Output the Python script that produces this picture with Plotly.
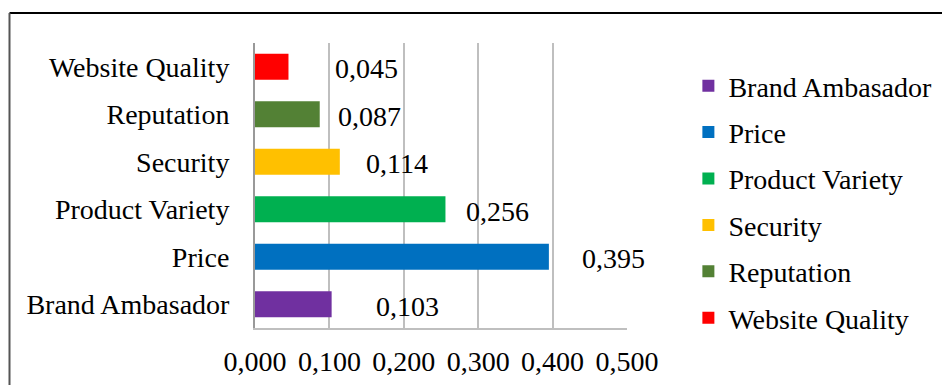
import plotly.graph_objects as go

categories = ["Brand Ambasador", "Price", "Product Variety", "Security", "Reputation", "Website Quality"]
values = [0.103, 0.395, 0.256, 0.114, 0.087, 0.045]
value_labels = ["0,103", "0,395", "0,256", "0,114", "0,087", "0,045"]
colors = ["#7030A0", "#0070C0", "#00B050", "#FFC000", "#538135", "#FF0000"]
tick_vals = [0.0, 0.1, 0.2, 0.3, 0.4, 0.5]
tick_text = ["0,000", "0,100", "0,200", "0,300", "0,400", "0,500"]
label_shift_px = [42, 31, 19, 24, 16, 45]

FONT = "Liberation Serif, Times New Roman, serif"
FS = 28

fig = go.Figure()
for cat, val, col in zip(categories, values, colors):
    fig.add_trace(go.Bar(
        x=[val], y=[cat], orientation="h", name=cat,
        marker=dict(color=col, line=dict(width=0)),
        width=0.55, legendgroup=cat, showlegend=True,
    ))

for cat, val, lab, sh in zip(categories, values, value_labels, label_shift_px):
    fig.add_annotation(x=val, y=cat, text=lab, showarrow=False,
                       xanchor="left", yanchor="middle", xshift=sh, yshift=-2,
                       font=dict(family=FONT, size=FS, color="black"))

# outer frame (top and left edges visible)
fig.add_shape(type="line", xref="paper", yref="paper",
              x0=(9.5 - 255) / 372, x1=(950 - 255) / 372,
              y0=(328 - 13) / 285, y1=(328 - 13) / 285,
              line=dict(color="black", width=2))
fig.add_shape(type="line", xref="paper", yref="paper",
              x0=(9.5 - 255) / 372, x1=(9.5 - 255) / 372,
              y0=(328 - 13) / 285, y1=(328 - 400) / 285,
              line=dict(color="#555555", width=2))

fig.update_layout(
    width=942, height=385,
    margin=dict(l=255, r=315, t=43, b=57, autoexpand=False),
    paper_bgcolor="white", plot_bgcolor="white",
    barmode="overlay",
    font=dict(family=FONT, size=FS, color="black"),
    legend=dict(x=1.165, xanchor="left", y=(328 - 61) / 285, yanchor="top",
                traceorder="grouped", tracegroupgap=7, maxheight=400,
                font=dict(family=FONT, size=FS, color="black"),
                itemclick=False, itemdoubleclick=False),
    xaxis=dict(range=[0, 0.5], tickvals=tick_vals, ticktext=tick_text,
               showgrid=True, gridcolor="#bfbfbf", gridwidth=1.5,
               zeroline=False, showline=True, linecolor="#bfbfbf", linewidth=1.5,
               ticks="", ticklabelstandoff=8, fixedrange=True, automargin=False),
    yaxis=dict(categoryorder="array", categoryarray=categories,
               showgrid=False, zeroline=False, showline=True,
               linecolor="#999999", linewidth=2, ticks="",
               ticklabelstandoff=18, fixedrange=True, automargin=False),
    showlegend=True,
)

fig.write_html("out.html", config=dict(displayModeBar=False))
